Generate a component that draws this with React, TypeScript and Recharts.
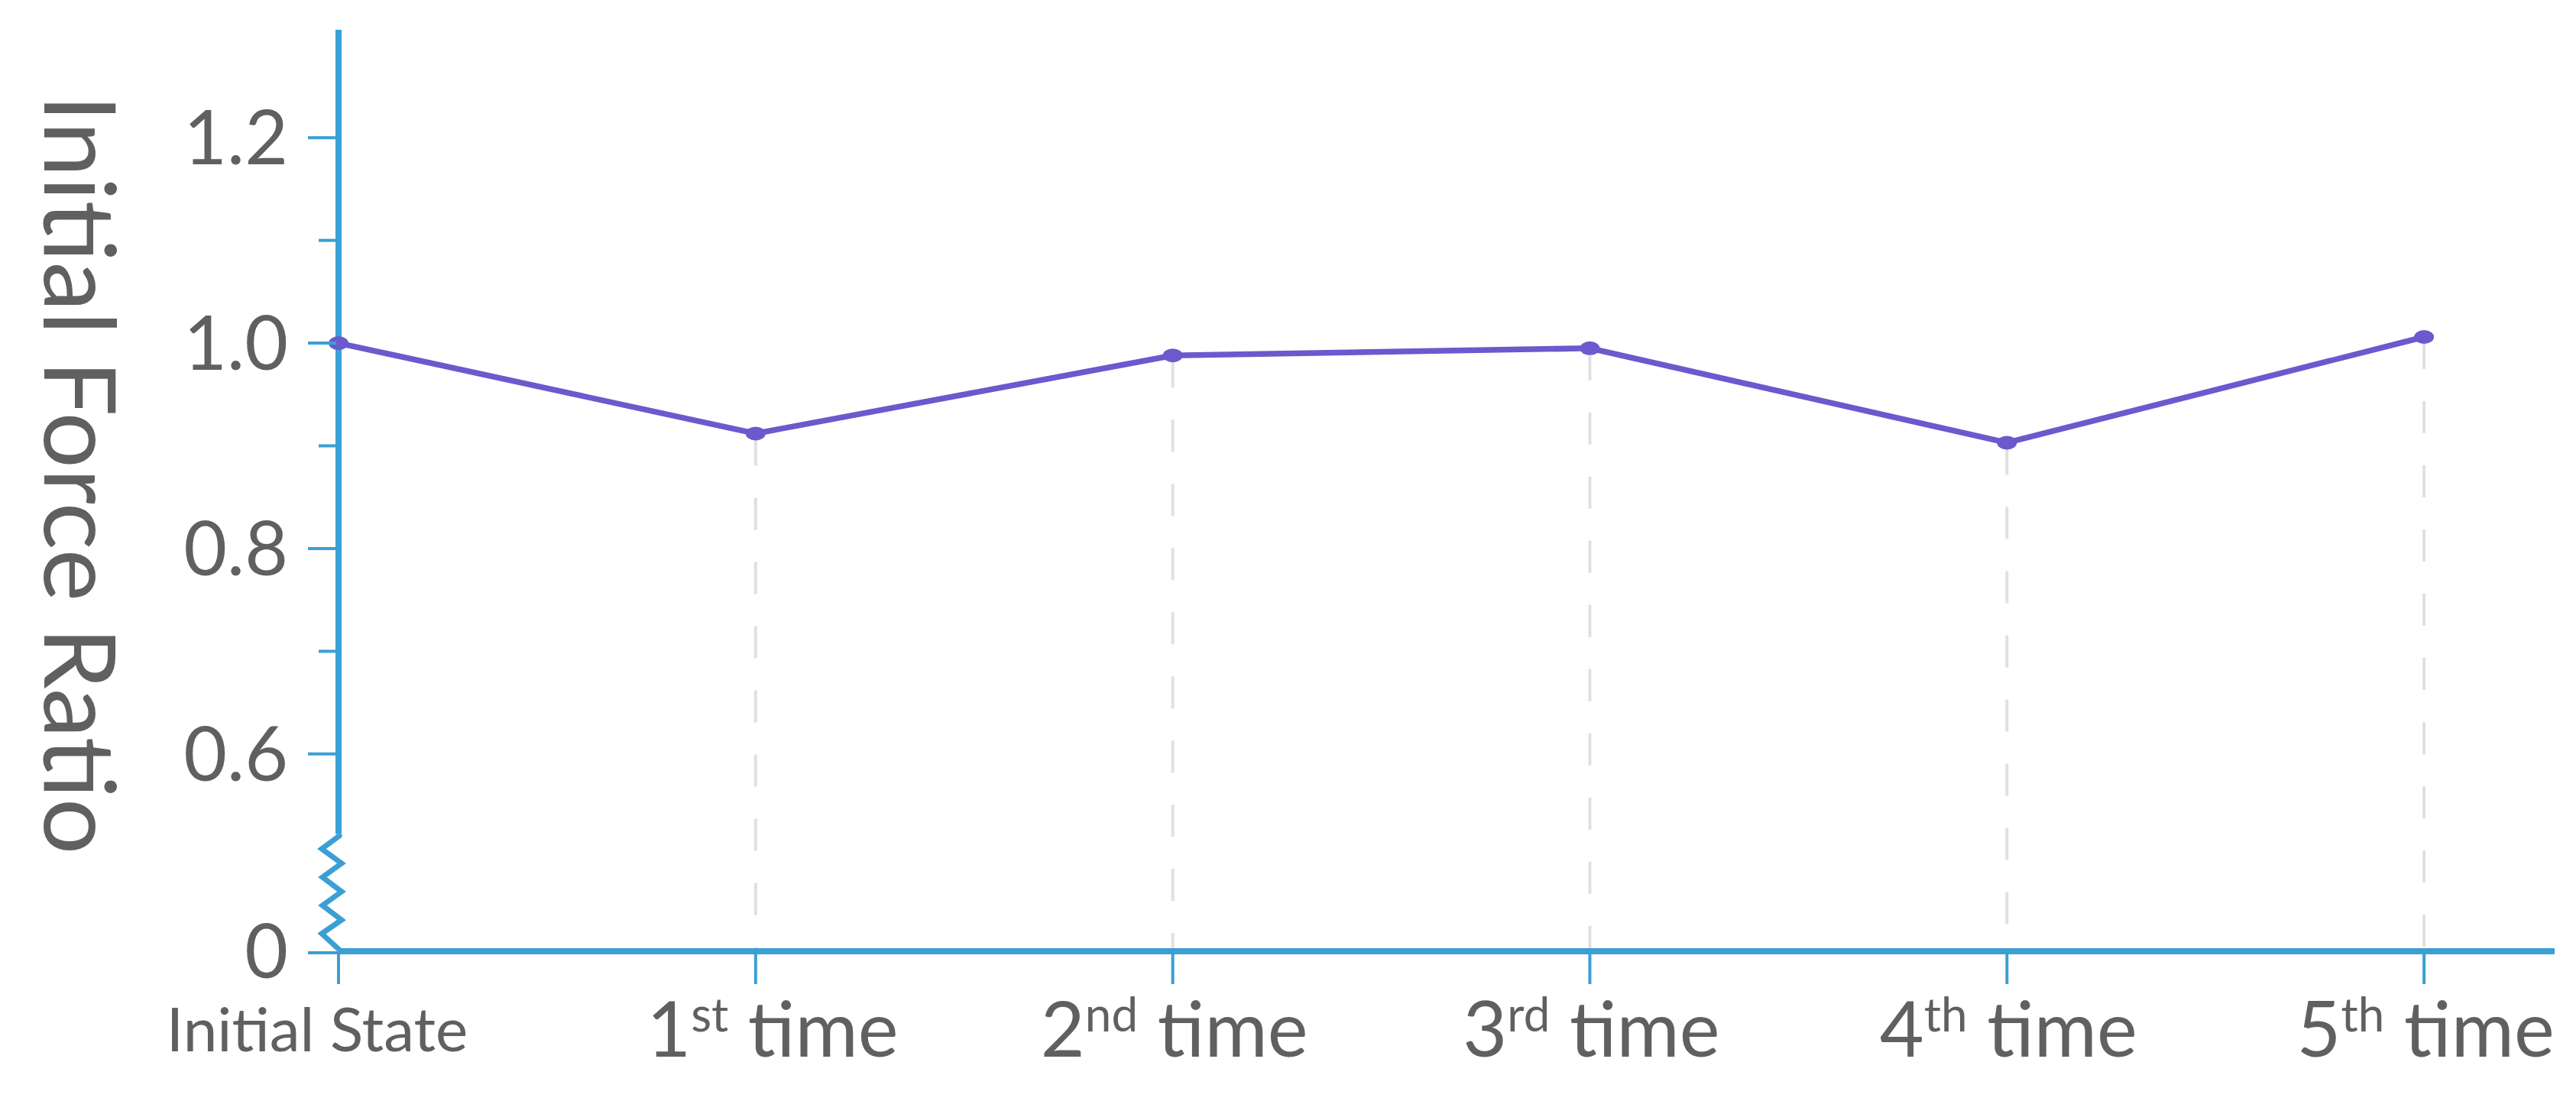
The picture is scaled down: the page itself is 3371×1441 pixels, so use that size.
import { LineChart, Line, XAxis, YAxis, ReferenceLine } from 'recharts';

// values
const stepIndex = [0, 1, 2, 3, 4, 5];
const forceRatio = [1.0, 0.912, 0.988, 0.995, 0.903, 1.006];
const initialLabel = 'Initial State';
const stepNumbers = ['', '1', '2', '3', '4', '5'];
const stepSuffixes = ['', 'st', 'nd', 'rd', 'th', 'th'];
const stepWord = ' time';
const yTicks = [0.408, 0.6, 0.7, 0.8, 0.9, 1.0, 1.1, 1.2];
const yMajorTicks = [0.6, 0.8, 1.0, 1.2];

const data = stepIndex.map((step, i) => ({ step, ratio: forceRatio[i] }));

const Y_MIN = 0.408; // drawn as "0" below the axis break
const Y_MAX = 1.305;
const X_MAX = 5.313;
const BREAK_TOP = 0.522;

const BLUE = '#3a9fd4';
const PURPLE = '#6a5acd';
const TEXT = '#5f6060';
const FONT = 'Lato, "Open Sans", sans-serif';

function YTick(props: any) {
  const { x, y, payload } = props;
  const v = payload.value;
  if (v === Y_MIN) {
    // zigzag for the broken axis
    const zig = [
      [1, -153], [1, -151], [-22, -134], [4, -115], [-21, -97], [4, -78],
      [-21, -60], [4, -41], [-22, -23], [1, -2],
    ].map(([dx, dy]) => `${x + dx},${y + dy}`).join(' ');
    return (
      <g>
        <line x1={x - 40} x2={x} y1={y + 2} y2={y + 2} stroke={BLUE} strokeWidth={4} />
        <polyline points={zig} fill="none" stroke={BLUE} strokeWidth={7} strokeLinejoin="miter" />
        <text x={x - 66} y={y} dy="0.36em" textAnchor="end" fontSize={98} fill={TEXT} fontFamily={FONT}>0</text>
      </g>
    );
  }
  const major = yMajorTicks.some((m) => Math.abs(m - v) < 1e-6);
  return (
    <g>
      <line x1={x - (major ? 40 : 26)} x2={x - 3} y1={y} y2={y} stroke={BLUE} strokeWidth={4} />
      {major && (
        <text x={x - 66} y={y} dy="0.36em" textAnchor="end" fontSize={98} fill={TEXT} fontFamily={FONT}>
          {v.toFixed(1)}
        </text>
      )}
    </g>
  );
}

function XTick(props: any) {
  const { x, y, payload } = props;
  const i = payload.value;
  const dx = i === 1 ? 22 : 2;
  return (
    <g>
      <line x1={x} x2={x} y1={y + 4} y2={y + 43} stroke={BLUE} strokeWidth={4} />
      {i === 0 ? (
        <text x={x - 28} y={y + 131} textAnchor="middle" fontSize={80} fill={TEXT} fontFamily={FONT}>
          {initialLabel}
        </text>
      ) : (
        <text x={x + dx} y={y + 138} textAnchor="middle" fontSize={100} fill={TEXT} fontFamily={FONT}>
          <tspan>{stepNumbers[i]}</tspan>
          <tspan fontSize={62} dy={-33}>{stepSuffixes[i]}</tspan>
          <tspan dy={33}>{stepWord}</tspan>
        </text>
      )}
    </g>
  );
}

function YLabel(props: any) {
  const vb = props.viewBox;
  const cy = vb.y + vb.height / 2 - 21;
  return (
    <text
      transform={`translate(58, ${cy}) rotate(90)`}
      textAnchor="middle"
      fontSize={130}
      fill={TEXT}
      fontFamily={FONT}
    >
      Initial Force Ratio
    </text>
  );
}

function Dot(props: any) {
  const { cx, cy, index } = props;
  return <ellipse key={index} cx={cx} cy={cy} rx={13} ry={9} fill={PURPLE} />;
}

export default function App() {
  return (
    <div style={{ width: 3371, height: 1441, background: '#fff' }}>
      <style>{'body{margin:0}'}</style>
      <LineChart
        width={3371}
        height={1441}
        data={data}
        margin={{ top: 39, right: 28, bottom: 0, left: 0 }}
        style={{ fontFamily: FONT }}
      >
        <XAxis
          type="number"
          dataKey="step"
          domain={[0, X_MAX]}
          ticks={stepIndex}
          interval={0}
          height={196}
          axisLine={{ stroke: BLUE, strokeWidth: 8 }}
          tickLine={false}
          tickSize={0}
          tickMargin={0}
          tick={<XTick />}
        />
        <YAxis
          type="number"
          domain={[Y_MIN, Y_MAX]}
          ticks={yTicks}
          interval={0}
          width={443}
          axisLine={false}
          tickLine={false}
          tickSize={0}
          tickMargin={0}
          tick={<YTick />}
          label={{ content: <YLabel /> }}
        />
        {data.slice(1).map((d) => (
          <ReferenceLine
            key={d.step}
            segment={[{ x: d.step, y: d.ratio }, { x: d.step, y: Y_MIN }]}
            stroke="#e0e0e0"
            strokeWidth={4}
            strokeDasharray="42 42"
          />
        ))}
        <ReferenceLine
          segment={[{ x: 0, y: BREAK_TOP }, { x: 0, y: Y_MAX }]}
          stroke={BLUE}
          strokeWidth={8}
        />
        <Line
          type="linear"
          dataKey="ratio"
          stroke={PURPLE}
          strokeWidth={7.5}
          dot={Dot}
          activeDot={false}
          isAnimationActive={false}
        />
      </LineChart>
    </div>
  );
}
